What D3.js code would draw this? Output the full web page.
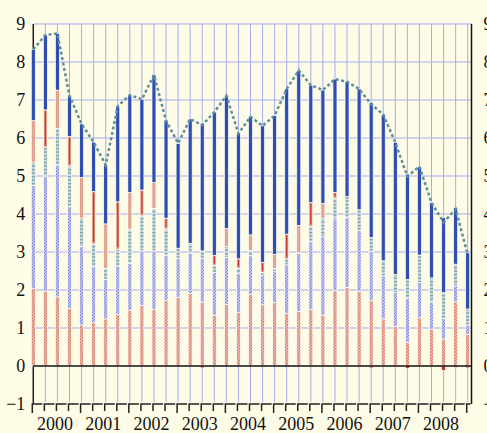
<!doctype html>
<html>
<head>
<meta charset="utf-8">
<title>Quarterly contributions 2000-2009</title>
<script src="https://cdn.jsdelivr.net/npm/d3@7"></script>
<style>
  html, body { margin: 0; padding: 0; background: #fefce6; }
  svg { display: block; }
  text { font-family: "Liberation Serif", "DejaVu Serif", serif; font-size: 18px; fill: #111; }
</style>
</head>
<body>
<svg id="chart" width="487" height="433"></svg>
<script>
// tick labels
var years = ["2000", "2001", "2002", "2003", "2004", "2005", "2006", "2007", "2008"];
var yTicks = [-1, 0, 1, 2, 3, 4, 5, 6, 7, 8, 9];

// quarters: 2000Q1 .. 2009Q1
var quarters = [];
years.forEach(function(y) { ["Q1", "Q2", "Q3", "Q4"].forEach(function(q) { quarters.push(y + q); }); });
quarters.push("2009Q1");

// series values
var redHatch = [2.04,1.96,1.82,1.52,1.08,1.14,1.24,1.36,1.47,1.59,1.49,1.72,1.81,1.91,1.68,1.34,1.62,1.41,1.89,1.61,1.67,1.39,1.43,1.49,1.34,1.98,2.07,1.97,1.72,1.24,1.04,0.62,1.27,0.97,0.71,1.69,0.83];
var blueHatch = [2.71,3.02,3.47,2.67,2.06,1.47,1.04,1.27,1.23,1.44,1.54,1.20,1.02,1.05,1.15,1.12,1.24,1.03,1.01,0.78,0.81,1.27,1.53,1.78,2.06,1.89,1.83,1.59,1.29,1.13,0.89,1.16,0.93,0.70,0.54,0.42,0.25];
var tealDash = [0.61,0.77,0.96,1.07,0.75,0.60,0.29,0.44,0.90,0.92,1.12,0.68,0.27,0.27,0.20,0.18,0.28,0.13,0.14,0.07,0.09,0.15,0.02,0.40,0.49,0.54,0.56,0.55,0.37,0.40,0.48,0.50,0.72,0.65,0.68,0.57,0.42];
var salmon = [1.10,0.99,1.01,0.78,1.07,1.38,1.17,1.25,0.97,0.68,0.68,0.29,0,0,-0.05,0.27,0.48,0.25,0.41,0.27,0.37,0.66,0.72,0.63,0.39,0.16,0,0,-0.05,0,0,-0.06,0,0,-0.12,-0.04,-0.05];
var blueSolid = [1.87,1.97,1.49,1.07,1.41,1.30,1.55,2.52,2.56,2.39,2.83,2.57,2.76,3.27,3.36,3.77,3.49,3.30,3.11,3.59,3.65,3.82,4.08,3.09,2.98,2.98,3.02,3.18,3.56,3.85,3.47,2.77,2.33,1.98,1.97,1.49,1.48];

var keys = ["redHatch", "blueHatch", "tealDash", "salmon", "blueSolid"];
var table = quarters.map(function(q, i) {
  return { q: q, i: i, redHatch: redHatch[i], blueHatch: blueHatch[i], tealDash: tealDash[i], salmon: salmon[i], blueSolid: blueSolid[i] };
});
var totals = table.map(function(d) { return d3.sum(keys, function(k) { return d[k]; }); });

var svg = d3.select("#chart");
var left = 33.3, right = 467.7, axisRight = 471.5;

var x = d3.scalePoint().domain(quarters).range([left, right]);
var y = d3.scaleLinear().domain([-1, 9]).range([404, 24]);

// patterns
var defs = svg.append("defs");
function diagPattern(id, bg, fg) {
  var p = defs.append("pattern").attr("id", id).attr("patternUnits", "userSpaceOnUse")
    .attr("width", 3).attr("height", 3);
  p.append("rect").attr("width", 3).attr("height", 3).attr("fill", bg);
  p.append("path").attr("d", "M-1,1l2,-2M0,3l3,-3M2,4l2,-2")
    .attr("stroke", fg).attr("stroke-width", 0.7);
}
diagPattern("pRed", "#ebb3a3", "#c9604f");
diagPattern("pBlue", "#bdc0ee", "#6472c9");
var pt = defs.append("pattern").attr("id", "pTeal").attr("patternUnits", "userSpaceOnUse")
  .attr("width", 4).attr("height", 3.5);
pt.append("rect").attr("width", 4).attr("height", 3.5).attr("fill", "#c9d9da");
pt.append("rect").attr("x", 0).attr("y", 1).attr("width", 4).attr("height", 1.2).attr("fill", "#6a97a3");

var fills = { redHatch: "url(#pRed)", blueHatch: "url(#pBlue)", tealDash: "url(#pTeal)", salmon: "#e3a390", blueSolid: "#2e4fb1" };

// grid
var grid = svg.append("g").attr("stroke", "#a5adec").attr("stroke-width", 1);
grid.selectAll(".h").data(yTicks.filter(function(v) { return v > 0; })).enter().append("line")
  .attr("x1", left).attr("x2", axisRight).attr("y1", function(v) { return y(v); }).attr("y2", function(v) { return y(v); });
grid.selectAll(".v").data(quarters).enter().append("line")
  .attr("x1", function(q) { return x(q); }).attr("x2", function(q) { return x(q); })
  .attr("y1", y(9)).attr("y2", y(-1) - 2);

// axes lines
svg.append("line").attr("x1", left).attr("x2", left).attr("y1", y(9)).attr("y2", y(-1))
  .attr("stroke", "#222").attr("stroke-width", 1.5);
svg.append("line").attr("x1", axisRight).attr("x2", axisRight).attr("y1", y(9)).attr("y2", y(-1))
  .attr("stroke", "#111").attr("stroke-width", 1.5);

// bars
var series = d3.stack().keys(keys).offset(d3.stackOffsetDiverging)(table);
var bw = 4;
series.forEach(function(s) {
  var g = svg.append("g");
  g.selectAll("rect").data(s.filter(function(d) { return d[1] !== d[0]; })).enter().append("rect")
    .attr("x", function(d) { return x(d.data.q) - bw / 2; })
    .attr("width", bw)
    .attr("y", function(d) { return y(Math.max(d[0], d[1])); })
    .attr("height", function(d) { return Math.abs(y(d[0]) - y(d[1])); })
    .attr("fill", function(d) { return d[1] < d[0] || d[1] <= 0 ? "#b5382b" : fills[s.key]; })
    .attr("stroke", "#fff").attr("stroke-width", 0.7);
  if (s.key === "salmon") {
    g.selectAll("line").data(s.filter(function(d) { return d[1] > d[0] && d.data.i % 2 === 1; })).enter().append("line")
      .attr("x1", function(d) { return x(d.data.q); }).attr("x2", function(d) { return x(d.data.q); })
      .attr("y1", function(d) { return y(d[1]) + 1; }).attr("y2", function(d) { return y(d[0]) - 2; })
      .attr("stroke", "#c0392b").attr("stroke-width", 1.3);
  }
});

// zero line
svg.append("line").attr("x1", left).attr("x2", axisRight).attr("y1", y(0)).attr("y2", y(0))
  .attr("stroke", "#111").attr("stroke-width", 1.5);

// total line
var line = d3.line().x(function(d, i) { return x(quarters[i]); }).y(function(d) { return y(d); });
svg.append("path").datum(totals).attr("d", line)
  .attr("fill", "none").attr("stroke", "#5f8f9c").attr("stroke-width", 2.5)
  .attr("stroke-dasharray", "3 2.5");

// y axes (right one runs off the edge, as in the original)
var yl = svg.append("g").attr("transform", "translate(" + left + ",0)")
  .call(d3.axisLeft(y).tickValues(yTicks).tickSize(0).tickPadding(8).tickFormat(d3.format("d")));
var yr = svg.append("g").attr("transform", "translate(" + axisRight + ",0)")
  .call(d3.axisRight(y).tickValues(yTicks).tickSize(0).tickPadding(12).tickFormat(d3.format("d")));
[yl, yr].forEach(function(a) {
  a.select(".domain").remove();
  a.selectAll("text").attr("font-size", 18).attr("font-family", "Liberation Serif, serif").attr("fill", "#111");
});

// bottom quarter ticks
var xb = svg.append("g").attr("fill", "none").attr("stroke", "#222").attr("stroke-width", 1.5);
quarters.forEach(function(q, i) {
  var x0 = x(q) - 1;
  var x1 = i < quarters.length - 1 ? x(quarters[i + 1]) - 3 : axisRight - 1;
  var len = i % 4 === 0 ? 9 : 7;
  xb.append("path").attr("d", "M" + x0 + "," + (y(-1) + len) + "V" + y(-1) + "H" + x1);
});

// year labels
svg.append("g").selectAll("text").data(years).enter().append("text")
  .attr("x", function(yr, k) { return (x(quarters[4 * k]) + x(quarters[4 * k + 3])) / 2 + 3.5; })
  .attr("y", 430).attr("text-anchor", "middle")
  .text(function(d) { return d; });
</script>
</body>
</html>
